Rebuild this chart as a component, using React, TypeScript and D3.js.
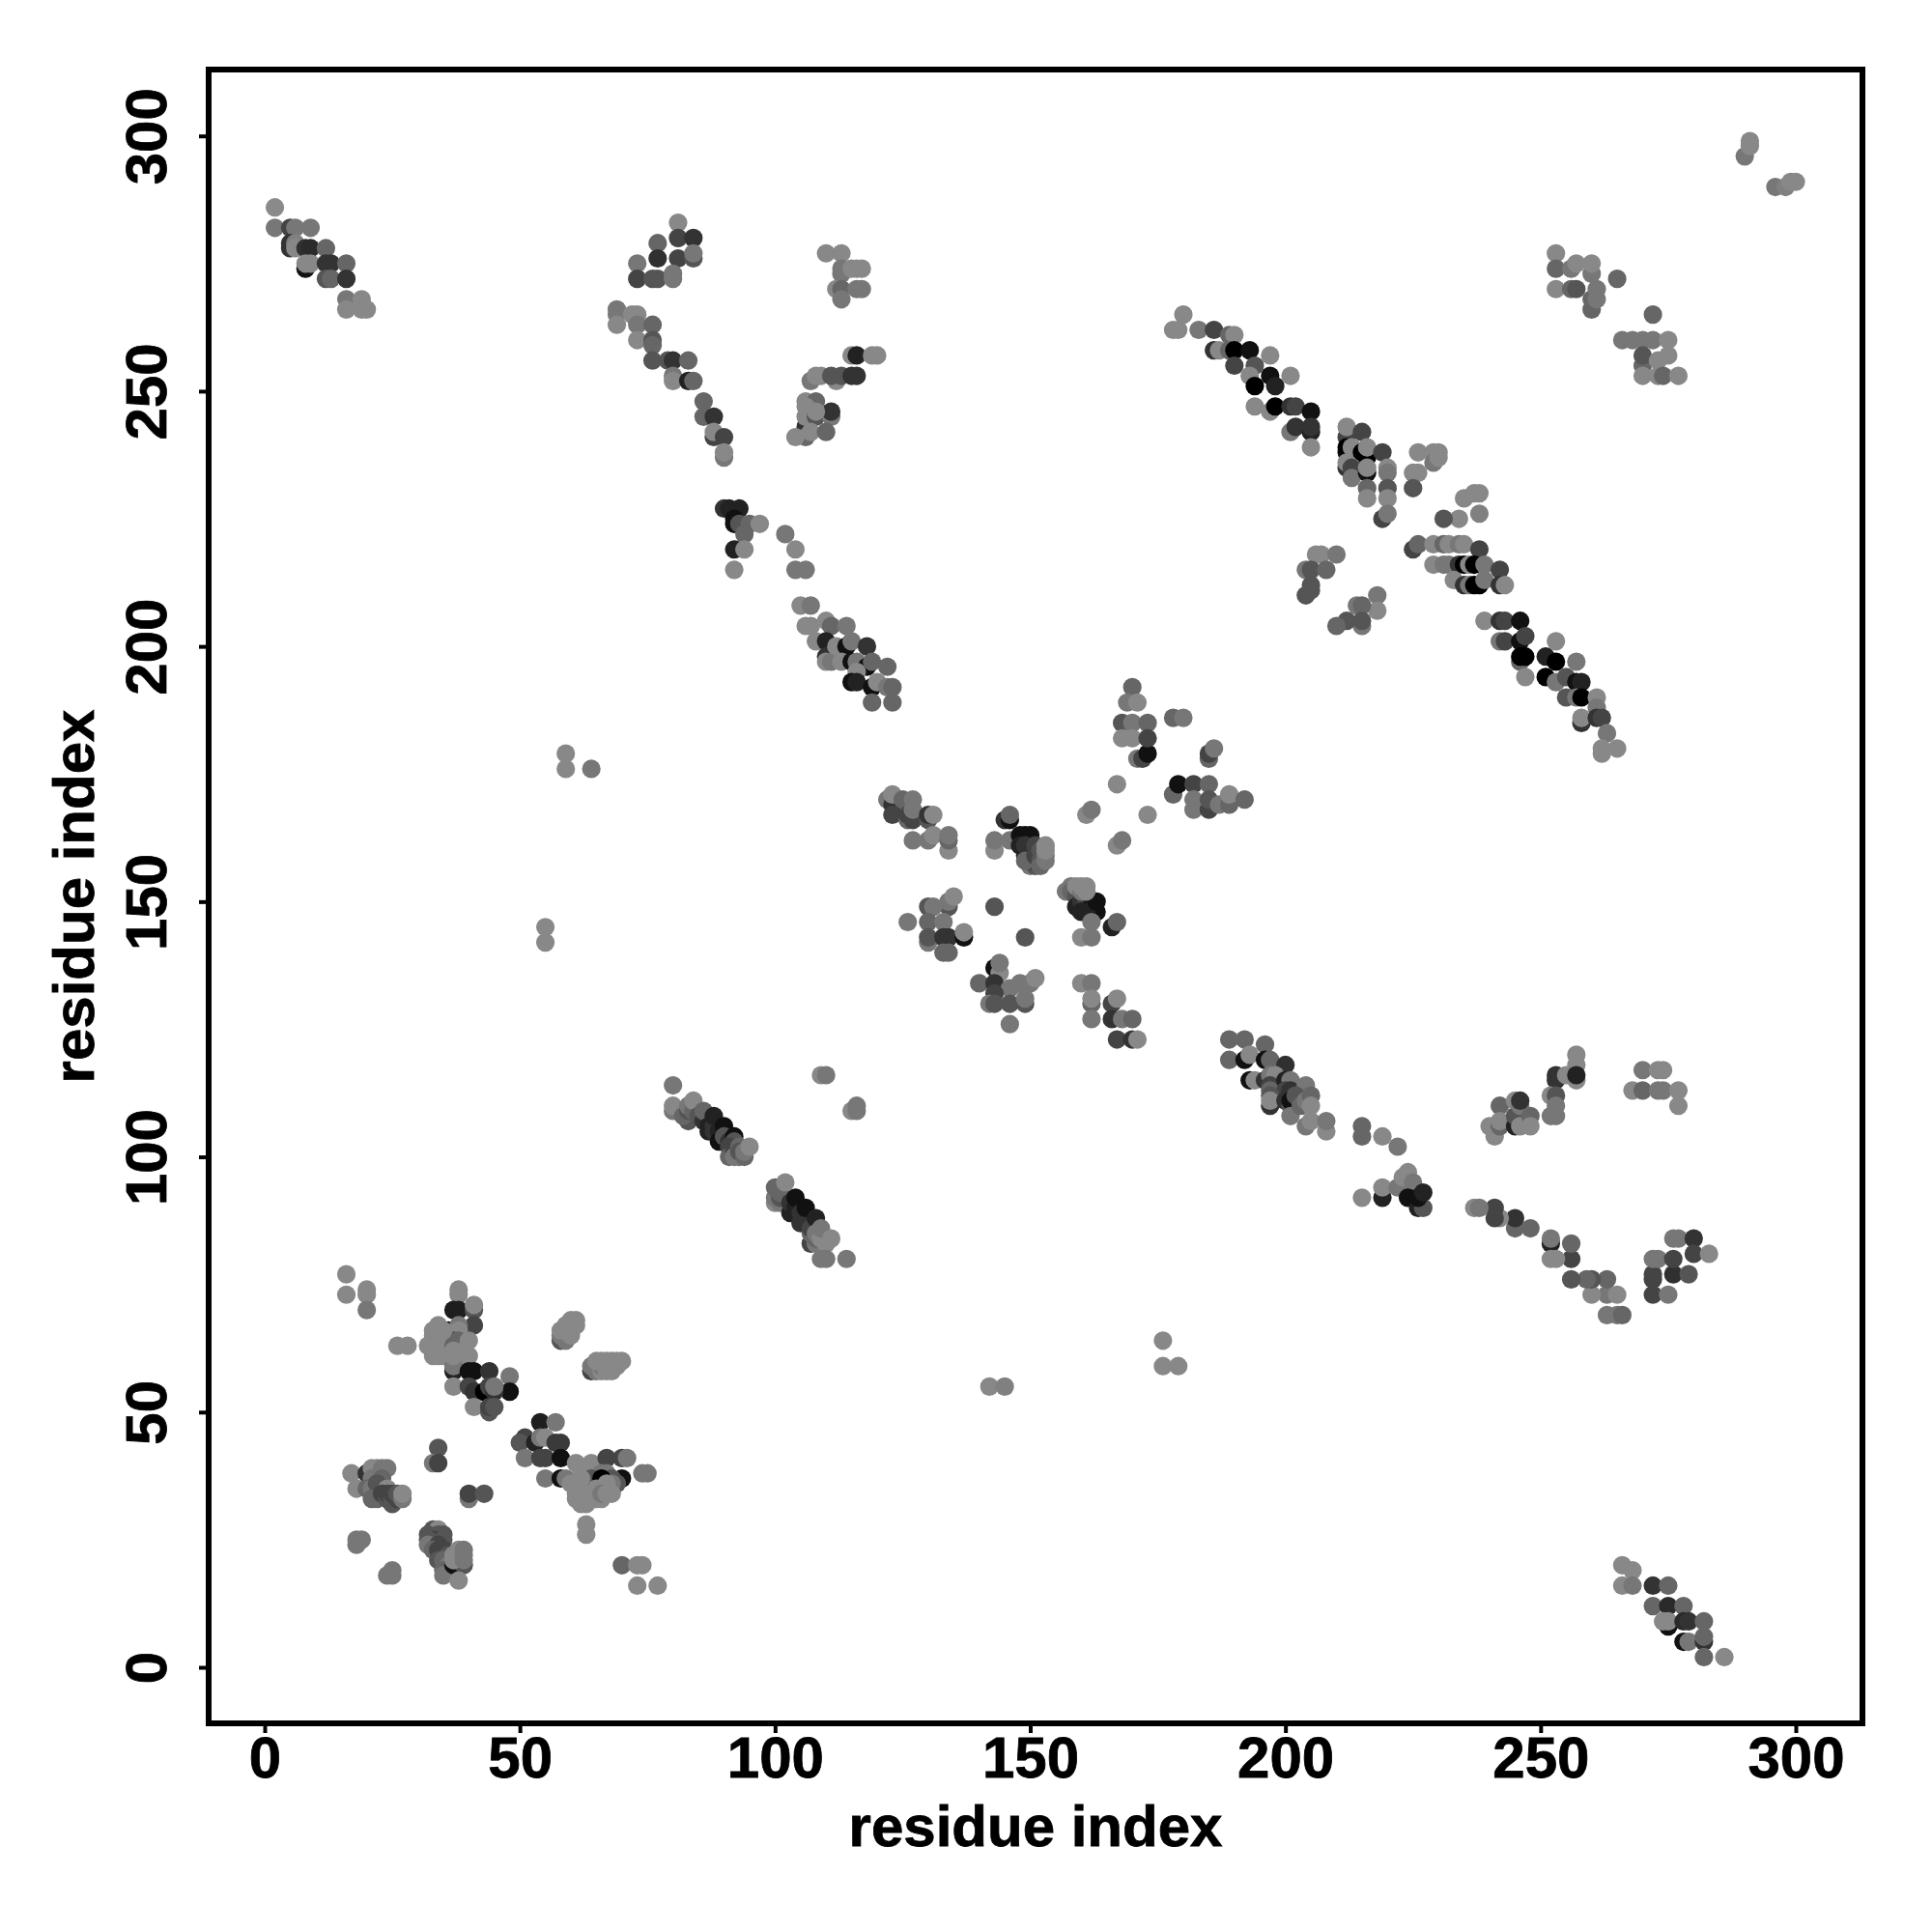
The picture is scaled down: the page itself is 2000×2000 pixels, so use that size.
import * as d3 from 'd3';
import React, { useEffect, useRef } from 'react';

// each row is [residue x, residue y, grey level]
type Contact = [number, number, number];

const xTicks = [0, 50, 100, 150, 200, 250, 300];
const yTicks = [0, 50, 100, 150, 200, 250, 300];

const cornerTopLeft: Contact[] = [
  [2,286,0x8a],[2,282,0x77],[5,282,0x44],[6,282,0x77],[9,282,0x77],[5,279,0x33],[5,278,0x33],[6,279,0x80],[6,278,0x88],
  [8,278,0x30],[9,278,0x2a],[12,278,0x66],[8,274,0x11],[8,275,0x88],[9,275,0x88],[12,275,0x33],[13,275,0x33],[16,275,0x66],
  [12,272,0x55],[13,272,0x66],[16,272,0x33],[16,268,0x77],[19,268,0x88],[16,266,0x88],[19,266,0x88],[20,266,0x88],
];
const cornerBottomRight: Contact[] = [
  [266,20,0x88],[268,19,0x88],[266,16,0x88],[268,16,0x77],[272,16,0x33],[275,16,0x66],[272,12,0x66],[275,12,0x2a],[278,12,0x66],
  [275,8,0x11],[275,9,0x88],[274,9,0x88],[278,9,0x2a],[279,9,0x33],[282,9,0x66],[278,5,0x11],[279,5,0x77],[282,5,0x33],[282,6,0x66],
  [282,2,0x66],[286,2,0x88],
];
const branchUpper: Contact[] = [
  [81,283,0x88],[77,279,0x66],[81,280,0x44],[84,280,0x33],[73,275,0x77],[77,276,0x30],[81,276,0x44],[84,276,0x55],[84,277,0x77],
  [73,272,0x44],[76,272,0x55],[77,272,0x55],[80,272,0x77],[80,273,0x77],[69,266,0x77],[69,265,0x77],[69,263,0x88],[72,265,0x88],
  [73,265,0x88],[73,263,0x77],[76,263,0x66],[73,260,0x88],[76,260,0x55],[76,259,0x66],[76,256,0x55],[79,256,0x55],[80,256,0x33],
  [83,256,0x66],[80,253,0x77],[80,252,0x88],[83,252,0x22],[84,252,0x66],[86,248,0x66],[86,245,0x66],[88,245,0x33],[88,241,0x44],
  [88,242,0x88],[90,241,0x44],[90,237,0x77],[90,238,0x88],
];
const branchLower: Contact[] = [
  [263,69,0x77],[265,69,0x77],[266,69,0x66],[263,73,0x77],[260,73,0x88],[265,73,0x88],[263,76,0x66],[260,76,0x55],[259,76,0x66],
  [256,76,0x55],[256,80,0x44],[256,83,0x66],[252,83,0x22],[252,84,0x77],[252,80,0x88],[253,80,0x88],[248,86,0x66],[245,86,0x66],
  [245,88,0x33],[242,88,0x88],[241,90,0x44],[241,88,0x44],[237,90,0x88],[238,90,0x77],[272,73,0x44],[275,73,0x77],[272,76,0x44],
  [272,77,0x44],[272,80,0x77],[273,80,0x77],[276,77,0x30],[279,77,0x55],[276,80,0x44],[276,84,0x77],[277,84,0x77],[280,84,0x33],
  [280,81,0x44],[283,81,0x88],
];
const armUpper: Contact[] = [
  [110,277,0x88],[113,277,0x88],[113,273,0x77],[113,274,0x77],[115,274,0x88],[116,274,0x88],[117,274,0x88],[112,270,0x88],[113,270,0x66],
  [113,268,0x77],[116,270,0x77],[117,270,0x77],[115,257,0x88],[116,257,0x22],[119,257,0x88],[120,257,0x88],[107,252,0x77],[108,253,0x88],
  [109,253,0x88],[112,252,0x88],[111,253,0x55],[113,253,0x55],[115,253,0x33],[116,253,0x33],[106,243,0x33],[106,248,0x88],[108,248,0x66],
  [106,247,0x88],[106,245,0x88],[108,245,0x55],[111,245,0x77],[111,246,0x33],[108,246,0x88],[106,241,0x66],[104,241,0x88],[107,242,0x88],[110,242,0x66],
];
const armLower: Contact[] = [
  [241,104,0x88],[240,106,0x88],[242,106,0x66],[242,110,0x66],[242,107,0x88],[245,106,0x22],[245,108,0x55],[245,111,0x88],[246,110,0x77],
  [246,111,0x33],[246,106,0x88],[248,108,0x66],[248,106,0x88],[253,116,0x33],[253,115,0x33],[252,112,0x88],[253,112,0x55],[253,110,0x77],
  [252,108,0x77],[253,108,0x77],[257,120,0x88],[257,118,0x88],[255,116,0x88],[257,115,0x88],[257,116,0x22],[270,117,0x77],[273,117,0x88],
  [274,117,0x88],[268,113,0x88],[270,113,0x66],[273,113,0x77],[274,113,0x77],[277,113,0x88],[277,110,0x88],
];
const clusterD: Contact[] = [
  [90,227,0x33],[91,227,0x22],[93,227,0x22],[92,225,0x11],[92,224,0x11],[93,224,0x55],[95,224,0x66],[94,222,0x66],[97,224,0x88],
  [92,219,0x22],[94,219,0x88],[92,215,0x88],[102,222,0x77],[104,219,0x88],[104,215,0x77],[106,215,0x77],
];
const clusterDMirror: Contact[] = [
  [215,106,0x66],[215,104,0x66],[219,104,0x88],[222,102,0x77],[215,92,0x88],[219,92,0x22],[219,94,0x88],[222,94,0x77],[224,97,0x88],
  [223,96,0x88],[225,95,0x77],[224,92,0x11],[226,90,0x22],[227,90,0x55],[226,92,0x11],[227,93,0x22],
];
const stripE: Contact[] = [
  [105,208,0x88],[107,208,0x77],[106,204,0x88],[107,204,0x88],[110,205,0x88],[111,204,0x66],[114,204,0x77],[108,201,0x88],[110,201,0x22],
  [110,198,0x33],[110,197,0x88],[111,197,0x77],[112,200,0x88],[114,200,0x11],[115,201,0x77],[118,200,0x33],[113,197,0x88],[115,197,0x11],
  [116,197,0x77],[118,196,0x11],[119,197,0x66],[116,195,0x88],[122,196,0x66],[115,193,0x11],[116,193,0x22],[119,192,0x11],[120,193,0x88],
  [122,192,0x77],[123,192,0x66],[119,189,0x66],[123,189,0x66],
];
const stripEMirror: Contact[] = [
  [189,123,0x66],[192,123,0x66],[196,122,0x66],[189,119,0x66],[192,119,0x11],[193,120,0x88],[196,119,0x11],[197,119,0x66],[200,118,0x30],
  [193,115,0x11],[194,115,0x88],[196,115,0x33],[197,116,0x77],[198,116,0x88],[197,114,0x44],[197,113,0x66],[200,115,0x22],[201,115,0x77],
  [200,113,0x44],[201,113,0x33],[204,114,0x77],[197,110,0x33],[197,112,0x55],[197,111,0x88],[200,111,0x33],[201,110,0x55],[201,111,0x11],
  [202,112,0x55],[201,108,0x77],[203,110,0x66],[204,111,0x77],[205,112,0x66],[205,110,0x88],[204,106,0x77],[205,107,0x88],[208,105,0x88],[208,107,0x77],
];
const bandF: Contact[] = [
  [180,265,0x88],[179,262,0x88],[178,262,0x88],[183,262,0x77],[186,262,0x44],[189,261,0x66],[190,261,0x88],[186,258,0x33],[187,258,0x88],
  [189,258,0x66],[190,258,0x00],[193,258,0x11],[190,255,0x44],[194,255,0x55],[197,257,0x88],[193,253,0x88],[194,251,0x00],[197,253,0x11],
  [198,251,0x22],[201,253,0x88],[194,247,0x88],[197,246,0x88],[198,247,0x00],[201,247,0x33],[202,247,0x44],[205,246,0x11],[201,242,0x77],
  [202,243,0x33],[205,242,0x22],[205,243,0x33],[205,239,0x88],
];
const bandG: Contact[] = [
  [212,241,0x44],[212,243,0x88],[215,242,0x44],[212,238,0x11],[212,239,0x00],[213,239,0x88],[212,235,0x33],[212,236,0x88],[213,235,0x44],[213,233,0x77],
  [215,238,0x00],[216,237,0x00],[216,239,0x88],[216,234,0x11],[216,235,0x88],[216,231,0x66],[216,229,0x88],[219,238,0x44],[220,235,0x88],[220,234,0x77],
  [220,231,0x55],[220,229,0x88],[219,225,0x44],[220,226,0x77],
];
const bandH: Contact[] = [
  [226,238,0x88],[229,238,0x88],[230,238,0x88],[225,234,0x88],[226,234,0x88],[229,236,0x77],[230,237,0x88],[225,231,0x55],[237,230,0x88],
  [238,230,0x88],[235,229,0x88],[238,226,0x80],[234,225,0x88],[231,225,0x55],[225,219,0x44],[226,220,0x66],[229,220,0x88],[231,220,0x66],
  [232,220,0x88],[234,220,0x77],[235,220,0x88],[238,219,0x44],[229,216,0x88],[231,216,0x77],[232,216,0x77],[234,216,0x33],[235,216,0x00],
  [236,216,0x88],[237,216,0x00],[239,216,0x77],[242,215,0x44],[233,213,0x88],[235,212,0x33],[236,212,0x77],[237,212,0x00],[238,212,0x00],[239,213,0x77],
  [242,212,0x33],[243,212,0x88],
];
const bandJ: Contact[] = [
  [239,205,0x88],[242,205,0x33],[243,205,0x44],[246,205,0x11],[242,201,0x77],[243,201,0x44],[246,201,0x11],[247,202,0x44],[246,197,0x66],
  [246,198,0x00],[247,198,0x00],[247,194,0x88],[253,201,0x88],[251,198,0x22],[253,197,0x00],[251,194,0x00],[253,193,0x77],[257,197,0x77],
  [255,194,0x55],[257,193,0x11],[258,193,0x22],[255,190,0x55],[257,190,0x77],[258,190,0x00],[261,190,0x88],[258,185,0x33],[258,186,0x88],
  [261,188,0x77],[261,186,0x33],[262,186,0x44],[263,183,0x77],[262,179,0x88],[262,180,0x88],[265,180,0x88],
];
const farCorner: Contact[] = [
  [290,296,0x77],[291,298,0x88],[291,299,0x88],[296,290,0x77],[298,290,0x80],[299,291,0x88],[300,291,0x88],
];
const clusterK: Contact[] = [
  [253,277,0x88],[253,274,0x66],[253,270,0x88],[256,270,0x66],[257,270,0x55],[256,274,0x77],[257,275,0x88],[260,266,0x66],[260,268,0x66],
  [261,268,0x77],[261,270,0x77],[260,273,0x77],[260,275,0x88],[265,272,0x66],
];
const clusterL: Contact[] = [
  [272,265,0x66],[266,260,0x77],[268,260,0x77],[270,260,0x77],[272,260,0x77],[275,260,0x88],[270,255,0x66],[270,257,0x55],[270,253,0x88],
  [273,256,0x88],[275,257,0x88],[273,253,0x88],[274,253,0x66],[277,253,0x88],
];
const clusterMid: Contact[] = [
  [206,218,0x88],[207,218,0x88],[210,218,0x77],[204,215,0x77],[205,215,0x55],[208,215,0x66],[205,212,0x55],[204,210,0x55],[205,211,0x55],
  [218,210,0x77],[218,207,0x88],[214,208,0x77],[215,208,0x66],[215,204,0x77],[215,205,0x55],[212,205,0x55],[210,204,0x66],
];
const crossRightUp: Contact[] = [
  [170,192,0x66],[169,189,0x77],[171,189,0x88],[168,185,0x55],[170,185,0x77],[168,182,0x88],[170,182,0x88],[173,185,0x66],[171,178,0x77],
  [172,178,0x44],[173,179,0x11],[173,182,0x44],[178,186,0x66],[180,186,0x77],[185,178,0x66],[185,179,0x44],[186,180,0x77],[178,171,0x66],
  [179,173,0x11],[182,173,0x44],[185,173,0x66],[182,168,0x77],[182,170,0x77],[185,168,0x44],[185,170,0x55],[187,169,0x77],[189,169,0x66],
  [189,171,0x88],[192,170,0x66],[167,173,0x88],[161,167,0x88],[162,168,0x77],[173,167,0x88],[167,161,0x88],[168,162,0x77],
];
const crossLeftUp: Contact[] = [
  [122,170,0x77],[123,169,0x33],[123,171,0x88],[123,167,0x44],[126,166,0x66],[125,170,0x66],[127,170,0x77],[126,167,0x44],[127,166,0x44],
  [127,168,0x77],[130,166,0x55],[130,167,0x33],[131,167,0x88],[127,162,0x77],[130,162,0x77],[131,163,0x88],[134,160,0x88],[134,162,0x66],[134,163,0x77],
  [145,166,0x33],[146,166,0x11],[146,167,0x66],[143,160,0x88],[143,162,0x77],[146,162,0x77],
];
const crossCentre: Contact[] = [
  [148,163,0x11],[149,163,0x11],[150,163,0x11],[149,159,0x22],[148,161,0x22],[150,157,0x77],[151,157,0x55],[149,161,0x33],[150,160,0x33],[150,158,0x44],[149,158,0x66],
  [151,159,0x44],[151,161,0x44],[152,160,0x55],[152,158,0x55],[152,157,0x66],[153,159,0x77],[153,158,0x77],[153,160,0x88],[153,161,0x88],
  [157,152,0x77],[158,153,0x77],[158,152,0x66],[159,151,0x55],[159,149,0x22],[160,150,0x33],[161,150,0x44],[162,149,0x11],[160,148,0x22],[163,148,0x11],[161,148,0x22],
  [163,150,0x11],[159,153,0x88],[160,152,0x77],[160,153,0x88],[161,152,0x88],[161,153,0x88],[162,146,0x77],[166,145,0x22],[167,146,0x66],[160,143,0x88],[162,143,0x77],[143,149,0x55],[149,143,0x55],
];
const crossLeftDown: Contact[] = [
  [134,149,0x55],[134,150,0x77],[135,151,0x88],[130,149,0x55],[131,149,0x77],[126,146,0x77],[130,146,0x66],[133,146,0x77],[130,142,0x77],
  [130,143,0x55],[133,143,0x33],[134,143,0x33],[137,143,0x11],[137,144,0x88],[133,140,0x66],[134,140,0x66],
  [143,137,0x11],[144,136,0x88],[144,138,0x77],[140,134,0x66],[143,134,0x33],[146,133,0x77],[148,134,0x77],[150,134,0x77],[151,135,0x88],
  [143,132,0x44],[142,130,0x77],[143,130,0x55],[146,130,0x55],[149,130,0x55],[149,131,0x77],[146,126,0x77],
];
const crossRightDown: Contact[] = [
  [160,134,0x88],[162,134,0x77],[162,130,0x66],[162,131,0x88],[162,127,0x77],[166,130,0x44],[167,131,0x88],[166,127,0x33],[168,127,0x77],
  [170,127,0x66],[167,123,0x44],[170,123,0x33],[171,123,0x88],
];
const lowerLeftTop: Contact[] = [
  [16,77,0x88],[16,73,0x88],[20,74,0x88],[20,73,0x88],[20,70,0x77],[38,73,0x88],[38,74,0x88],[37,70,0x1e],[38,70,0x1e],[41,70,0x55],[41,71,0x88],
  [41,67,0x44],[36,66,0x11],[36,65,0x55],[38,67,0x77],[38,66,0x88],[37,64,0x55],[34,66,0x77],[34,67,0x88],[33,66,0x88],[33,65,0x88],[34,65,0x88],[35,66,0x88],
  [32,63,0x88],[33,62,0x88],[34,63,0x88],[35,64,0x88],[35,62,0x88],[36,63,0x88],[34,61,0x88],[33,61,0x88],[35,61,0x88],[36,61,0x88],
  [38,64,0x66],[37,63,0x66],[37,62,0x88],[40,64,0x88],[40,61,0x88],[39,62,0x88],[39,60,0x88],[38,61,0x88],[37,58,0x22],[37,59,0x77],[37,61,0x88],[37,55,0x88],[26,63,0x88],[28,63,0x88],
  [40,58,0x11],[41,58,0x11],[44,58,0x33],[48,57,0x77],[48,54,0x11],[40,55,0x44],[41,54,0x33],[43,54,0x00],[44,55,0x44],[45,54,0x33],[45,55,0x77],
  [41,51,0x88],[44,50,0x55],[44,51,0x44],[45,51,0x55],
];
const lowerLeftSide: Contact[] = [
  [58,64,0x55],[58,65,0x77],[59,64,0x77],[59,65,0x77],[58,66,0x88],[59,67,0x88],[60,65,0x88],[60,66,0x88],[60,67,0x88],[60,68,0x88],[61,67,0x88],[61,68,0x88],
  [64,58,0x44],[65,58,0x77],[64,59,0x77],[65,59,0x77],[66,58,0x88],[66,59,0x77],[67,58,0x88],[67,59,0x88],[65,60,0x88],[66,60,0x88],[67,60,0x88],[68,58,0x88],
  [68,59,0x88],[68,60,0x88],[69,59,0x88],[69,60,0x88],[70,60,0x88],
];
const lowerLeftRight: Contact[] = [
  [54,48,0x1e],[57,48,0x77],[51,45,0x44],[50,44,0x55],[53,44,0x22],[54,45,0x77],[55,45,0x88],[57,44,0x3a],[58,44,0x3a],[51,41,0x77],[54,41,0x44],[55,41,0x44],
  [58,41,0x11],[55,37,0x77],[58,37,0x11],[59,37,0x77],[61,40,0x88],[64,40,0x88],[62,39,0x88],[63,38,0x88],[67,41,0x44],[70,41,0x44],[71,41,0x77],[74,38,0x77],[75,38,0x77],[70,37,0x11],
  [67,38,0x77],[66,38,0x77],[68,37,0x55],[69,36,0x55],[68,36,0x77],[64,37,0x55],[62,37,0x88],[66,37,0x00],[67,36,0x88],[60,36,0x88],[61,35,0x88],[65,35,0x88],[61,33,0x88],[61,34,0x88],
  [62,34,0x88],[62,32,0x88],[63,33,0x88],[64,33,0x88],[65,33,0x88],[66,33,0x88],[64,34,0x88],[63,32,0x88],[66,34,0x77],[67,34,0x88],[68,34,0x88],
  [63,28,0x88],[63,26,0x88],[70,20,0x66],[73,20,0x88],[74,20,0x88],[73,16,0x88],[77,16,0x88],
];
const lowerLeftBottom: Contact[] = [
  [17,38,0x88],[18,35,0x88],[20,38,0x33],[21,39,0x88],[22,39,0x88],[23,39,0x77],[24,39,0x77],[21,37,0x77],[23,37,0x66],[20,35,0x66],[21,35,0x77],[22,36,0x55],[23,35,0x55],[24,35,0x88],
  [21,33,0x66],[22,33,0x66],[23,34,0x44],[24,33,0x55],[24,34,0x44],[25,32,0x55],[25,33,0x55],[25,34,0x44],[26,33,0x44],[26,34,0x55],[27,33,0x77],[27,34,0x88],
  [34,43,0x55],[33,40,0x77],[34,40,0x44],[40,33,0x77],[40,34,0x44],[43,34,0x55],[18,25,0x77],[19,25,0x77],[18,24,0x77],[24,18,0x77],[25,19,0x77],[25,18,0x77],
  [33,27,0x55],[34,27,0x88],[32,26,0x55],[34,26,0x55],[35,26,0x55],[33,25,0x44],[32,25,0x55],[35,25,0x55],[32,24,0x77],[34,24,0x44],[33,23,0x66],[34,23,0x44],[35,23,0x44],
  [36,22,0x55],[34,21,0x55],[35,21,0x66],[36,20,0x77],[35,19,0x66],[35,18,0x77],[37,20,0x11],[38,20,0x11],[39,20,0x55],[37,21,0x88],[37,22,0x88],[38,22,0x88],[38,23,0x88],
  [39,21,0x77],[39,22,0x77],[39,23,0x77],[38,17,0x88],
];
const diagonalI: Contact[] = [
  [80,114,0x77],[80,109,0x77],[80,110,0x88],[83,107,0x55],[82,108,0x66],[83,109,0x55],[83,110,0x77],[84,109,0x66],[84,111,0x88],[85,108,0x55],[86,107,0x33],[86,109,0x66],
  [87,106,0x22],[87,105,0x22],[88,106,0x33],[88,105,0x33],[88,108,0x22],[89,105,0x22],[89,103,0x11],[90,106,0x11],[90,104,0x55],[91,103,0x33],[92,104,0x11],[92,103,0x55],
  [91,102,0x44],[91,100,0x66],[92,101,0x44],[92,100,0x77],[93,102,0x66],[93,100,0x77],[93,101,0x55],[94,100,0x66],[94,101,0x77],[95,102,0x88],
];
const diagonalIMirror: Contact[] = [
  [100,91,0x88],[100,92,0x77],[100,94,0x66],[101,91,0x77],[101,92,0x55],[101,93,0x66],[102,95,0x88],[103,89,0x22],[103,91,0x33],[104,90,0x22],[104,92,0x11],[105,87,0x33],[105,89,0x33],
  [106,88,0x33],[106,90,0x11],[107,83,0x44],[107,85,0x66],[107,86,0x44],[108,88,0x22],[108,83,0x77],[108,84,0x66],[108,85,0x77],[109,84,0x88],[110,83,0x88],
  [109,86,0x77],[111,84,0x88],[109,80,0x77],[110,80,0x77],[114,80,0x77],[109,116,0x88],[110,116,0x77],[115,109,0x88],[116,110,0x77],[116,109,0x77],
];
const strays: Contact[] = [
  [59,179,0x88],[59,176,0x88],[64,176,0x77],[55,145,0x88],[55,142,0x88],[142,55,0x88],[145,55,0x80],[176,64,0x88],[176,59,0x88],[179,59,0x88],
];

const allContacts: Contact[] = [
  ...cornerTopLeft, ...cornerBottomRight, ...branchUpper, ...branchLower, ...armUpper, ...armLower, ...clusterD, ...clusterDMirror,
  ...stripE, ...stripEMirror, ...bandF, ...bandG, ...bandH, ...bandJ, ...farCorner, ...clusterK, ...clusterL, ...clusterMid,
  ...crossRightUp, ...crossLeftUp, ...crossCentre, ...crossLeftDown, ...crossRightDown, ...lowerLeftTop, ...lowerLeftSide,
  ...lowerLeftRight, ...lowerLeftBottom, ...diagonalI, ...diagonalIMirror, ...strays,
];

function App() {
  const svgRef = useRef<SVGSVGElement>(null);

  useEffect(() => {
    const svg = d3.select(svgRef.current);
    svg.selectAll('*').remove();

    const xScale = d3.scaleLinear().domain([0, 300]).range([274, 1859]);
    const yScale = d3.scaleLinear().domain([0, 300]).range([1726, 140.7]);

    svg
      .append('g')
      .selectAll('circle')
      .data(allContacts)
      .join('circle')
      .attr('cx', (d) => xScale(d[0]))
      .attr('cy', (d) => yScale(d[1]))
      .attr('r', 9.6)
      .attr('fill', (d) => d3.rgb(d[2], d[2], d[2]).formatHex());

    const font = '"Liberation Sans", Arial, sans-serif';

    const xAxis = svg
      .append('g')
      .attr('transform', 'translate(0,1784)')
      .call(d3.axisBottom(xScale).tickValues(xTicks).tickSize(10).tickFormat(d3.format('d')));
    xAxis.select('.domain').remove();
    xAxis.selectAll('line').attr('stroke', '#000').attr('stroke-width', 4);
    xAxis
      .selectAll('text')
      .attr('y', 56)
      .attr('dy', 0)
      .attr('fill', '#000')
      .attr('stroke', '#000')
      .attr('stroke-width', 0.8)
      .attr('font-family', font)
      .attr('font-weight', 700)
      .attr('font-size', 60);

    const yAxis = svg
      .append('g')
      .attr('transform', 'translate(216,0)')
      .call(d3.axisLeft(yScale).tickValues(yTicks).tickSize(10).tickFormat(d3.format('d')));
    yAxis.select('.domain').remove();
    yAxis.selectAll('line').attr('stroke', '#000').attr('stroke-width', 4);
    yAxis
      .selectAll('text')
      .attr('x', 0)
      .attr('y', 0)
      .attr('dy', 0)
      .attr('transform', 'translate(-44,0) rotate(-90)')
      .attr('text-anchor', 'middle')
      .attr('fill', '#000')
      .attr('stroke', '#000')
      .attr('stroke-width', 0.8)
      .attr('font-family', font)
      .attr('font-weight', 700)
      .attr('font-size', 60);

    svg
      .append('rect')
      .attr('x', 216)
      .attr('y', 72)
      .attr('width', 1712)
      .attr('height', 1712)
      .attr('fill', 'none')
      .attr('stroke', '#000')
      .attr('stroke-width', 6);

    svg
      .append('text')
      .attr('x', 1072)
      .attr('y', 1911)
      .attr('text-anchor', 'middle')
      .attr('stroke', '#000')
      .attr('stroke-width', 0.8)
      .attr('font-family', font)
      .attr('font-weight', 700)
      .attr('font-size', 60)
      .text('residue index');

    svg
      .append('text')
      .attr('transform', 'translate(97,928) rotate(-90)')
      .attr('text-anchor', 'middle')
      .attr('stroke', '#000')
      .attr('stroke-width', 0.8)
      .attr('font-family', font)
      .attr('font-weight', 700)
      .attr('font-size', 60)
      .text('residue index');
  }, []);

  return (
    <svg
      ref={svgRef}
      width={2000}
      height={2000}
      style={{ position: 'absolute', left: 0, top: 0, background: '#fff' }}
    />
  );
}

export default App;
